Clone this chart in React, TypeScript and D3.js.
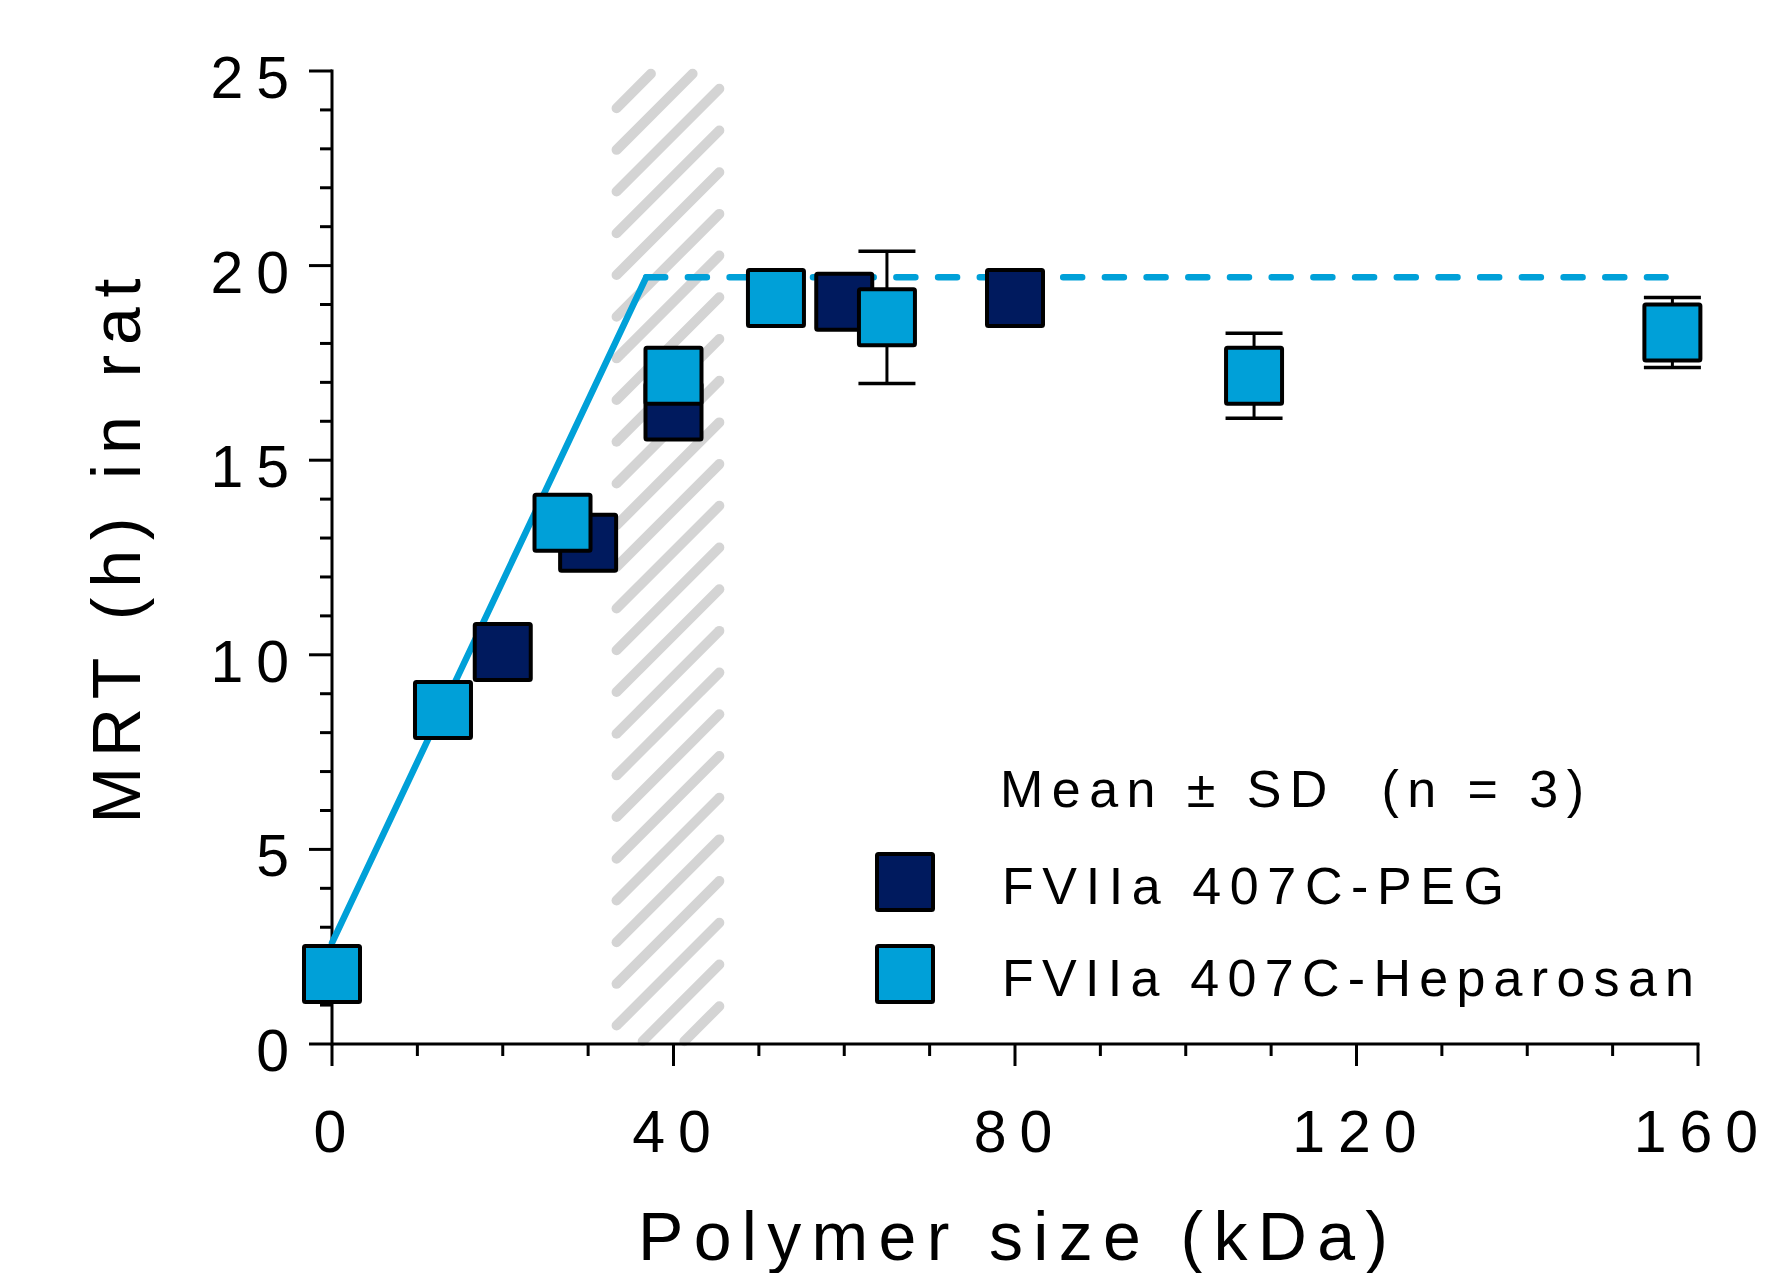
import { useEffect, useRef } from "react";
import * as d3 from "d3";

// FVIIa 407C-PEG
const pegSize = [20, 30, 40, 60, 80];
const pegMrt = [10.07, 12.88, 16.25, 19.07, 19.17];
const pegSd = [null, null, null, null, null];

// FVIIa 407C-Heparosan
const hepSize = [0, 13, 27, 40, 52, 65, 108, 157];
const hepMrt = [1.8, 8.58, 13.39, 17.17, 19.17, 18.67, 17.17, 18.28];
const hepSd = [null, null, null, null, null, 1.7, 1.09, 0.9];

// fitted line: rise then plateau
const fitRiseX = [0, 36.8];
const fitRiseY = [2.6, 19.7];
const fitFlatX = [36.8, 156.2];
const fitFlatY = [19.7, 19.7];

// hatched band (kDa)
const bandX = [33, 45.7];

const xTickLabels = [0, 40, 80, 120, 160];
const yTickLabels = [0, 5, 10, 15, 20, 25];

const legendTitle = "Mean \u00b1 SD  (n = 3)";
const seriesNames = ["FVIIa 407C-PEG", "FVIIa 407C-Heparosan"];

const LIGHT = "#00a0d8";
const NAVY = "#001a5e";
const FONT = "'Liberation Sans', Arial, Helvetica, sans-serif";

// spaced-out width of a numeric label (digit advance + gap)
const tickWidth = (s) => s.length * 32.8 + (s.length - 1) * 13;

export default function App() {
  const ref = useRef(null);

  useEffect(() => {
    if (!ref.current) return;
    const w = 1765,
      h = 1273;
    const svg = d3.select(ref.current);
    svg.selectAll("*").remove();
    svg.attr("width", w).attr("height", h).attr("viewBox", `0 0 ${w} ${h}`);

    const x = d3.scaleLinear().domain([0, 160]).range([332, 1698]);
    const y = d3.scaleLinear().domain([0, 25]).range([1044, 71]);

    // hatched band
    const bx0 = x(bandX[0]),
      bx1 = x(bandX[1]),
      by0 = y(25),
      by1 = y(0);
    const period = 41.7,
      sw = 10,
      r = (sw / 2 / Math.SQRT2) * 0.8;
    const stripes = [];
    for (let c = bx0 + by0 + 40 - period * 3; c < bx1 + by1 + period; c += period) {
      const lo = Math.max(bx0, c - by1);
      const hi = Math.min(bx1, c - by0);
      if (hi - lo > 2 * r + 0.5) stripes.push([lo + r, hi - r, c]);
    }
    svg
      .append("g")
      .selectAll("line")
      .data(stripes)
      .join("line")
      .attr("x1", (d) => d[0])
      .attr("y1", (d) => d[2] - d[0])
      .attr("x2", (d) => d[1])
      .attr("y2", (d) => d[2] - d[1])
      .attr("stroke", "#d4d4d4")
      .attr("stroke-width", sw)
      .attr("stroke-linecap", "round");

    // axes
    const ax = svg.append("g").attr("stroke", "#000").attr("stroke-width", 3);
    ax.append("line").attr("x1", x(0)).attr("x2", x(160) + 1.5).attr("y1", y(0)).attr("y2", y(0));
    ax.append("line").attr("x1", x(0)).attr("x2", x(0)).attr("y1", y(0) + 1.5).attr("y2", y(25) - 1.5);
    ax.selectAll(".xt")
      .data(x.ticks(16))
      .join("line")
      .attr("x1", (d) => x(d))
      .attr("x2", (d) => x(d))
      .attr("y1", y(0))
      .attr("y2", (d) => y(0) + (d % 40 === 0 ? 22 : 12));
    ax.selectAll(".yt")
      .data(y.ticks(25))
      .join("line")
      .attr("y1", (d) => y(d))
      .attr("y2", (d) => y(d))
      .attr("x1", (d) => x(0) - (d % 5 === 0 ? 23 : 12))
      .attr("x2", x(0));

    // tick labels
    const tickText = (sel) =>
      sel
        .attr("font-family", FONT)
        .attr("font-size", 59)
        .each(function (d) {
          const s = String(d);
          if (s.length > 1) d3.select(this).attr("textLength", tickWidth(s)).attr("lengthAdjust", "spacing");
        })
        .text((d) => d);
    svg
      .append("g")
      .selectAll("text")
      .data(xTickLabels)
      .join("text")
      .attr("x", (d) => x(d) - 2)
      .attr("y", 1152)
      .attr("text-anchor", "middle")
      .call(tickText);
    svg
      .append("g")
      .selectAll("text")
      .data(yTickLabels)
      .join("text")
      .attr("x", 289)
      .attr("y", (d) => y(d) + 27)
      .attr("text-anchor", "end")
      .call(tickText);

    // axis titles
    svg
      .append("text")
      .attr("x", 1013)
      .attr("y", 1260)
      .attr("text-anchor", "middle")
      .attr("font-family", FONT)
      .attr("font-size", 68)
      .attr("textLength", 750)
      .attr("lengthAdjust", "spacing")
      .text("Polymer size (kDa)");
    svg
      .append("text")
      .attr("transform", "translate(140,551) rotate(-90)")
      .attr("text-anchor", "middle")
      .attr("font-family", FONT)
      .attr("font-size", 68)
      .attr("textLength", 545)
      .attr("lengthAdjust", "spacing")
      .text("MRT (h) in rat");

    // fit lines
    const line = d3
      .line()
      .x((d) => x(d[0]))
      .y((d) => y(d[1]));
    svg
      .append("path")
      .attr("d", line(d3.zip(fitRiseX, fitRiseY)))
      .attr("fill", "none")
      .attr("stroke", LIGHT)
      .attr("stroke-width", 6.5)
      .attr("stroke-linecap", "round")
      .attr("stroke-linejoin", "round");
    svg
      .append("path")
      .attr("d", line(d3.zip(fitFlatX, fitFlatY)))
      .attr("fill", "none")
      .attr("stroke", LIGHT)
      .attr("stroke-width", 6.5)
      .attr("stroke-linecap", "round")
      .attr("stroke-dasharray", "19 22.7");

    const S = 60,
      bw = 4;
    const drawSeries = (sizes, mrt, sd, fill) => {
      const pts = sizes.map((s, i) => ({ s, m: mrt[i], sd: sd[i] }));
      const eb = svg.append("g").attr("stroke", "#000").attr("stroke-width", 3);
      pts
        .filter((p) => p.sd != null)
        .forEach((p) => {
          const cx = x(p.s);
          eb.append("line").attr("x1", cx).attr("x2", cx).attr("y1", y(p.m + p.sd)).attr("y2", y(p.m - p.sd));
          [p.m + p.sd, p.m - p.sd].forEach((v) =>
            eb
              .append("line")
              .attr("x1", cx - 28.5)
              .attr("x2", cx + 28.5)
              .attr("y1", y(v))
              .attr("y2", y(v))
              .attr("stroke-width", 3.5)
          );
        });
      svg
        .append("g")
        .selectAll("rect")
        .data(pts)
        .join("rect")
        .attr("x", (p) => x(p.s) - (S - bw) / 2)
        .attr("y", (p) => y(p.m) - (S - bw) / 2)
        .attr("width", S - bw)
        .attr("height", S - bw)
        .attr("rx", 1.5)
        .attr("fill", fill)
        .attr("stroke", "#000")
        .attr("stroke-width", bw)
        .attr("stroke-linejoin", "round");
    };
    drawSeries(pegSize, pegMrt, pegSd, NAVY);
    drawSeries(hepSize, hepMrt, hepSd, LIGHT);

    // legend
    const lg = svg.append("g").attr("font-family", FONT).attr("font-size", 52);
    lg.append("text")
      .attr("x", 1000)
      .attr("y", 807)
      .attr("textLength", 584)
      .attr("lengthAdjust", "spacing")
      .style("white-space", "pre")
      .text(legendTitle);
    const lens = [502, 692];
    [NAVY, LIGHT].forEach((c, i) => {
      const cy = 882 + i * 92;
      lg.append("rect")
        .attr("x", 877)
        .attr("y", cy - 28)
        .attr("width", 56)
        .attr("height", 56)
        .attr("rx", 1.5)
        .attr("fill", c)
        .attr("stroke", "#000")
        .attr("stroke-width", 4);
      lg.append("text")
        .attr("x", 1002)
        .attr("y", cy + 22)
        .attr("textLength", lens[i])
        .attr("lengthAdjust", "spacing")
        .text(seriesNames[i]);
    });
  }, []);

  return (
    <svg
      ref={ref}
      style={{ position: "absolute", left: 0, top: 0, display: "block", background: "#fff" }}
    />
  );
}
